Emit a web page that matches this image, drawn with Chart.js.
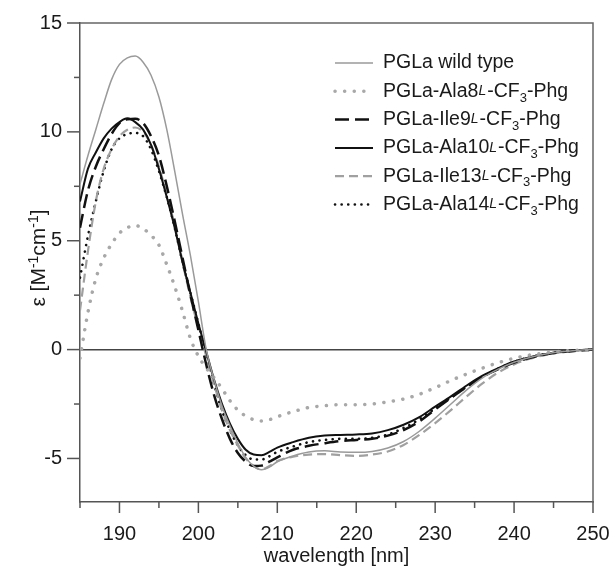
<!DOCTYPE html>
<html>
<head>
<meta charset="utf-8">
<script src="https://cdn.jsdelivr.net/npm/chart.js@4.4.0/dist/chart.umd.min.js"></script>
<style>
  html, body { margin: 0; padding: 0; background: #fff; }
  #wrap { width: 613px; height: 566px; }
</style>
</head>
<body>
<div id="wrap"><canvas id="cd" width="613" height="566"></canvas></div>
<script>
// wavelength in nm (1 nm steps up to 210, then 2 nm)
const wavelength = [185, 186, 187, 188, 189, 190, 191, 192, 193, 194, 195, 196, 197, 198, 199, 200, 201, 202, 203, 204, 205, 206, 207, 208, 209, 210,
    212, 214, 216, 218, 220, 222, 224, 226, 228, 230, 232, 234, 236, 238, 240, 242, 244, 246, 248, 250];

// molar ellipticity values
const wildType = [7.6, 8.9, 10.1, 11.3, 12.4, 13.1, 13.4, 13.48, 13.2, 12.6, 11.6, 10.1, 8.2, 6.2, 4.3, 2.2, 0.0, -1.4, -2.6, -3.5, -4.3, -4.95, -5.35, -5.52, -5.4, -5.15,
    -4.88, -4.7, -4.65, -4.7, -4.72, -4.68, -4.52, -4.22, -3.75, -3.15, -2.5, -1.85, -1.3, -0.9, -0.58, -0.36, -0.2, -0.1, -0.04, 0.0];
const ala8 = [-0.4, 1.7, 3.25, 4.2, 4.85, 5.35, 5.6, 5.7, 5.55, 5.25, 4.8, 3.9, 2.9, 1.75, 0.5, -0.3, -0.85, -1.3, -1.8, -2.35, -2.78, -3.05, -3.22, -3.28, -3.22, -3.08,
    -2.85, -2.66, -2.58, -2.53, -2.53, -2.5, -2.4, -2.27, -2.05, -1.75, -1.42, -1.12, -0.85, -0.6, -0.4, -0.25, -0.15, -0.08, -0.03, 0.0];
const ile9 = [5.6, 7.3, 8.4, 9.2, 9.9, 10.4, 10.58, 10.6, 10.4, 9.8, 8.9, 7.5, 5.9, 4.2, 2.5, 0.9, -0.7, -2.1, -3.2, -4.1, -4.75, -5.15, -5.35, -5.33, -5.15, -4.95,
    -4.6, -4.42, -4.3, -4.2, -4.15, -4.1, -3.95, -3.7, -3.3, -2.75, -2.22, -1.72, -1.25, -0.9, -0.6, -0.38, -0.22, -0.12, -0.05, 0.0];
const ala10 = [6.8, 8.3, 9.05, 9.7, 10.15, 10.45, 10.62, 10.45, 10.1, 9.4, 8.3, 7.0, 5.6, 4.0, 2.6, 1.2, -0.1, -1.4, -2.5, -3.4, -4.1, -4.6, -4.82, -4.85, -4.7, -4.5,
    -4.25, -4.05, -3.95, -3.92, -3.9, -3.85, -3.7, -3.45, -3.1, -2.62, -2.15, -1.65, -1.2, -0.85, -0.55, -0.35, -0.2, -0.1, -0.04, 0.0];
const ile13 = [1.8, 4.5, 6.8, 8.3, 9.2, 9.8, 10.1, 10.2, 10.0, 9.4, 8.4, 7.1, 5.7, 4.0, 2.4, 1.0, -0.3, -1.6, -2.8, -3.7, -4.4, -5.0, -5.35, -5.5, -5.35, -5.12,
    -4.92, -4.82, -4.8, -4.85, -4.88, -4.82, -4.68, -4.38, -3.92, -3.38, -2.78, -2.15, -1.55, -1.05, -0.68, -0.42, -0.24, -0.12, -0.05, 0.0];
const ala14 = [3.3, 5.2, 6.8, 8.2, 9.2, 9.7, 9.9, 9.95, 9.8, 9.2, 8.2, 7.0, 5.6, 4.0, 2.6, 1.2, -0.2, -1.6, -2.8, -3.7, -4.4, -4.85, -5.05, -5.05, -4.9, -4.7,
    -4.45, -4.25, -4.15, -4.1, -4.1, -4.05, -3.9, -3.6, -3.2, -2.7, -2.2, -1.7, -1.25, -0.87, -0.56, -0.35, -0.2, -0.1, -0.04, 0.0];

// {L} = italic small-cap L, _3 = subscript 3
const seriesLabels = ['PGLa wild type', 'PGLa-Ala8{L}-CF_3-Phg', 'PGLa-Ile9{L}-CF_3-Phg',
    'PGLa-Ala10{L}-CF_3-Phg', 'PGLa-Ile13{L}-CF_3-Phg', 'PGLa-Ala14{L}-CF_3-Phg'];

const xTickValues = [185, 190, 195, 200, 205, 210, 215, 220, 225, 230, 235, 240, 245, 250];
const yTickValues = [-5, -2.5, 0, 2.5, 5, 7.5, 10, 12.5, 15];

const FONT = '"Liberation Sans", Arial, Helvetica, sans-serif';

const toPoints = (vals) => wavelength.map((w, i) => ({ x: w, y: vals[i] }));

const lineStyles = [
    { borderColor: '#9a9a9a', borderWidth: 1.5, borderDash: [] },
    { borderColor: '#a8a8a8', borderWidth: 3.5, borderDash: [0.1, 9.5], borderCapStyle: 'round' },
    { borderColor: '#111111', borderWidth: 2.5, borderDash: [14, 6] },
    { borderColor: '#111111', borderWidth: 2, borderDash: [] },
    { borderColor: '#a0a0a0', borderWidth: 2.2, borderDash: [9, 5] },
    { borderColor: '#111111', borderWidth: 2.6, borderDash: [0.1, 6.5], borderCapStyle: 'round' }
];

const seriesData = [wildType, ala8, ile9, ala10, ile13, ala14];

const datasets = seriesData.map((vals, i) => Object.assign({
    label: seriesLabels[i].replace('{L}', 'L').replace('_3', '3'),
    data: toPoints(vals),
    pointRadius: 0,
    fill: false,
    cubicInterpolationMode: 'monotone'
}, lineStyles[i]));

// draw text with italic small L and subscript 3
function drawRichText(ctx, text, x, y, size) {
    const parts = text.split(/(\{L\}|_3)/).filter(p => p !== '');
    let cx = x;
    parts.forEach(p => {
        if (p === '{L}') {
            ctx.font = 'italic ' + Math.round(size * 0.74) + 'px ' + FONT;
            ctx.fillText('L', cx, y);
            cx += ctx.measureText('L').width + 1;
        } else if (p === '_3') {
            ctx.font = Math.round(size * 0.66) + 'px ' + FONT;
            ctx.fillText('3', cx, y + size * 0.34);
            cx += ctx.measureText('3').width;
        } else {
            ctx.font = size + 'px ' + FONT;
            ctx.fillText(p, cx, y);
            cx += ctx.measureText(p).width;
        }
    });
}

const noScalePadding = (scale) => {
    scale.paddingLeft = 0;
    scale.paddingRight = 0;
    scale.paddingTop = 0;
    scale.paddingBottom = 0;
};

const decorations = {
    id: 'decorations',
    afterDraw(chart) {
        const { ctx, chartArea: a, scales: { x, y } } = chart;
        ctx.save();

        // frame top and right
        ctx.strokeStyle = '#666';
        ctx.lineWidth = 1.5;
        ctx.setLineDash([]);
        ctx.beginPath();
        ctx.moveTo(a.left, a.top);
        ctx.lineTo(a.right, a.top);
        ctx.lineTo(a.right, a.bottom);
        ctx.stroke();

        // outward ticks, long on labelled values
        ctx.strokeStyle = '#555';
        yTickValues.forEach(v => {
            const py = y.getPixelForValue(v);
            const len = v % 5 === 0 ? 13 : 6;
            ctx.beginPath();
            ctx.moveTo(a.left - len, py);
            ctx.lineTo(a.left, py);
            ctx.stroke();
        });
        xTickValues.forEach(v => {
            const px = x.getPixelForValue(v);
            const len = v % 10 === 0 ? 11 : 6;
            ctx.beginPath();
            ctx.moveTo(px, a.bottom);
            ctx.lineTo(px, a.bottom + len);
            ctx.stroke();
        });

        // axis titles
        ctx.fillStyle = '#1a1a1a';
        ctx.textBaseline = 'alphabetic';
        ctx.textAlign = 'center';
        ctx.font = '20px ' + FONT;
        ctx.fillText('wavelength [nm]', (a.left + a.right) / 2, 562);

        const titleParts = [['ε [M', false], ['-1', true], ['cm', false], ['-1', true], [']', false]];
        const big = 21, small = 14;
        let total = 0;
        titleParts.forEach(([t, sup]) => {
            ctx.font = (sup ? small : big) + 'px ' + FONT;
            total += ctx.measureText(t).width;
        });
        ctx.translate(45, 258);
        ctx.rotate(-Math.PI / 2);
        ctx.textAlign = 'left';
        let tx = -total / 2;
        titleParts.forEach(([t, sup]) => {
            ctx.font = (sup ? small : big) + 'px ' + FONT;
            ctx.fillText(t, tx, sup ? -7 : 0);
            tx += ctx.measureText(t).width;
        });
        ctx.setTransform(1, 0, 0, 1, 0, 0);

        // legend
        const lx = 335, lineLen = 38, textX = 383, top = 63, gap = 28.3;
        chart.data.datasets.forEach((ds, i) => {
            const ly = top + i * gap;
            ctx.strokeStyle = ds.borderColor;
            ctx.lineWidth = ds.borderWidth;
            ctx.lineCap = ds.borderCapStyle || 'butt';
            ctx.setLineDash(ds.borderDash || []);
            ctx.beginPath();
            ctx.moveTo(lx, ly);
            ctx.lineTo(lx + lineLen, ly);
            ctx.stroke();
            ctx.setLineDash([]);
            ctx.fillStyle = '#1a1a1a';
            ctx.textBaseline = 'middle';
            drawRichText(ctx, seriesLabels[i], textX, ly, 19.5);
        });
        ctx.restore();
    }
};

const ctx = document.getElementById('cd').getContext('2d');
new Chart(ctx, {
    type: 'line',
    data: { datasets: datasets },
    options: {
        responsive: false,
        animation: false,
        events: [],
        layout: { padding: { top: 23, right: 20, left: 0, bottom: 0 } },
        plugins: { legend: { display: false }, tooltip: { enabled: false } },
        scales: {
            x: {
                type: 'linear',
                min: 185,
                max: 250,
                afterBuildTicks: (scale) => { scale.ticks = xTickValues.map(v => ({ value: v })); },
                afterFit: (scale) => { scale.height = 64; noScalePadding(scale); },
                grid: { display: false, drawTicks: false },
                border: { display: true, color: '#555', width: 1.5 },
                ticks: {
                    autoSkip: false,
                    maxRotation: 0,
                    padding: 20,
                    color: '#1a1a1a',
                    font: { family: FONT, size: 20 },
                    callback: (v) => (v % 10 === 0 ? String(v) : '')
                }
            },
            y: {
                type: 'linear',
                min: -7,
                max: 15,
                afterBuildTicks: (scale) => { scale.ticks = yTickValues.map(v => ({ value: v })); },
                afterFit: (scale) => { scale.width = 80; noScalePadding(scale); },
                grid: {
                    drawTicks: false,
                    color: (c) => (c.tick && c.tick.value === 0 ? '#444' : 'rgba(0,0,0,0)'),
                    lineWidth: 1.5
                },
                border: { display: true, color: '#555', width: 1.5 },
                ticks: {
                    padding: 18,
                    color: '#1a1a1a',
                    font: { family: FONT, size: 20 },
                    callback: (v) => (v % 5 === 0 ? String(v) : '')
                }
            }
        }
    },
    plugins: [decorations]
});
</script>
</body>
</html>
